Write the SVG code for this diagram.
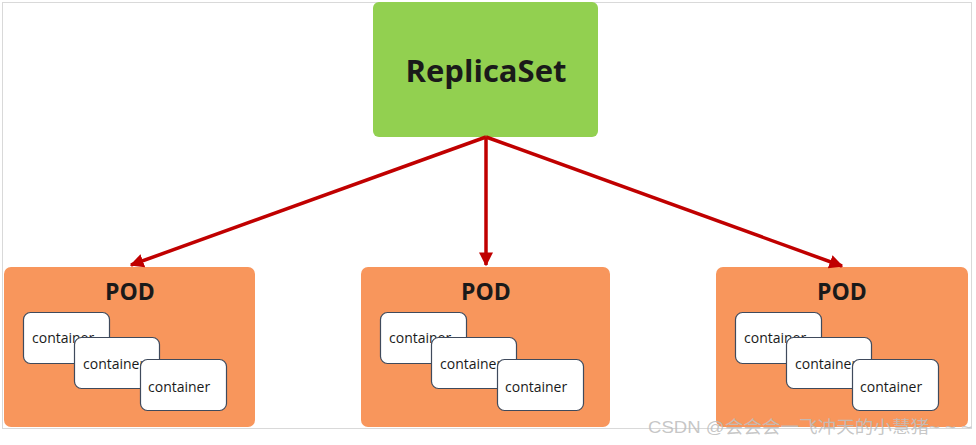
<svg xmlns="http://www.w3.org/2000/svg" width="976" height="445" viewBox="0 0 976 445">
<defs>
<style>
.frame{fill:#fff;stroke:#d9d9d9;stroke-width:1}
.rs{fill:#92d050}
.rst{font-family:"Open Sans","Noto Sans",sans-serif;font-weight:bold;font-size:31px;fill:#1a1a1a;text-anchor:middle}
.pod{fill:#f8965c}
.podt{font-family:"Open Sans","Noto Sans",sans-serif;font-weight:bold;font-size:23px;fill:#1a1a1a;text-anchor:middle}
.ct{fill:#fff;stroke:#3f4a5c;stroke-width:1.2}
.ctt{font-family:"Open Sans","Noto Sans",sans-serif;font-size:14px;fill:#1a1a1a}
.conn{stroke:#c00000;stroke-width:3.5;fill:none}
.wm{font-family:"Liberation Sans","Noto Sans CJK SC",sans-serif;font-size:17px;fill:#bfbfbf;fill-opacity:0.9}
</style>
<marker id="ah" viewBox="0 0 10 10" refX="9" refY="5" markerWidth="4" markerHeight="4" orient="auto" markerUnits="strokeWidth">
<path d="M0,0 L10,5 L0,10 z" fill="#c00000"/>
</marker>
<g id="cset">
<rect class="ct" x="23.5" y="312.5" width="86" height="51" rx="7"/>
<text class="ctt" x="32" y="343">container</text>
<rect class="ct" x="74.5" y="337.5" width="85" height="51" rx="7"/>
<text class="ctt" x="83" y="369">container</text>
<rect class="ct" x="140.5" y="359.5" width="86" height="51" rx="7"/>
<text class="ctt" x="148" y="392">container</text>
</g>
</defs>
<rect class="frame" x="2.5" y="2.5" width="969" height="426"/>
<g id="replicaset">
<rect class="rs" x="373" y="2" width="225" height="135" rx="6"/>
<text class="rst" x="486" y="82">ReplicaSet</text>
</g>
<g id="pod1">
<rect class="pod" x="4" y="267" width="251" height="160" rx="7"/>
<text class="podt" x="130" y="300">POD</text>
<use href="#cset"/>
</g>
<g id="pod2">
<rect class="pod" x="361" y="267" width="249" height="160" rx="7"/>
<text class="podt" x="486" y="300">POD</text>
<use href="#cset" x="357"/>
</g>
<g id="pod3">
<rect class="pod" x="716" y="267" width="252" height="160" rx="7"/>
<text class="podt" x="842" y="300">POD</text>
<use href="#cset" x="712"/>
</g>
<g id="connectors">
<line class="conn" x1="486" y1="137" x2="131" y2="265" marker-end="url(#ah)"/>
<line class="conn" x1="486" y1="137" x2="486" y2="265" marker-end="url(#ah)"/>
<line class="conn" x1="486" y1="137" x2="842" y2="266" marker-end="url(#ah)"/>
</g>
<text class="wm" x="648" y="433" textLength="324" lengthAdjust="spacingAndGlyphs">CSDN @会会会一飞冲天的小慧猪~ ~ ~</text>
</svg>
